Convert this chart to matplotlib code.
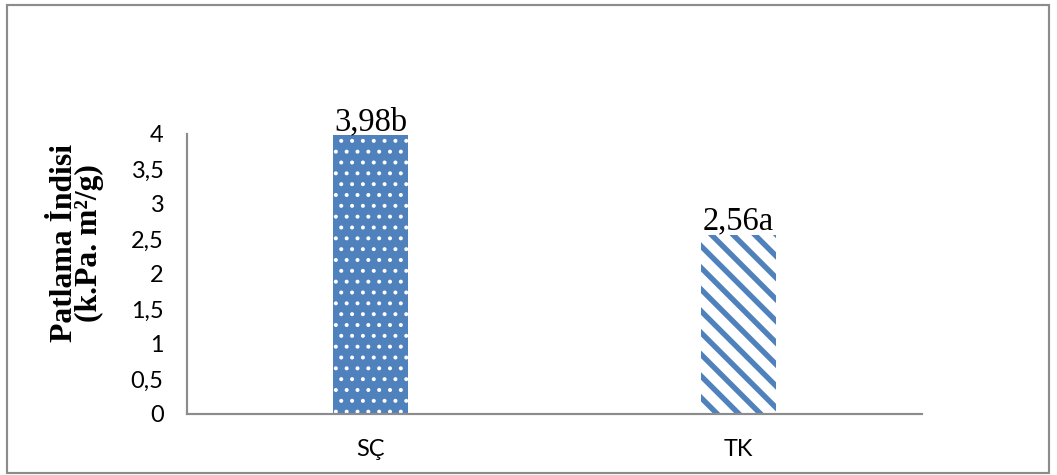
import matplotlib
matplotlib.use("Agg")
import matplotlib.pyplot as plt
from matplotlib.patches import Rectangle

# Data
categories = ["SÇ", "TK"]
values = [3.98, 2.56]
labels = ["3,98b", "2,56a"]
yticks = [0, 0.5, 1, 1.5, 2, 2.5, 3, 3.5, 4]
ytick_labels = ["0", "0,5", "1", "1,5", "2", "2,5", "3", "3,5", "4"]

BLUE = "#4F81BD"
GRAY = "#8C8C8C"
DPI = 130

fig = plt.figure(figsize=(1057 / DPI, 475 / DPI), dpi=DPI)
ax = fig.add_axes([187 / 1057, 1 - 414 / 475, (922 - 187) / 1057, (414 - 134) / 475])

x = list(range(len(categories)))

# dotted bar
plt.rcParams["hatch.linewidth"] = 1.0
b1 = ax.bar(x[0], values[0], width=0.205, color=BLUE, edgecolor="white",
            linewidth=0, hatch="..")
# striped bar
plt.rcParams["hatch.linewidth"] = 3.0
b2 = ax.bar(x[1], values[1], width=0.205, color="white", edgecolor=BLUE,
            linewidth=0, hatch="\\\\")

for xi, v, lab in zip(x, values, labels):
    ax.text(xi, v - 0.02, lab, ha="center", va="bottom", fontsize=18,
            family="Liberation Serif")

ax.set_xlim(-0.5, 1.5)
ax.set_ylim(0, 4)
ax.set_yticks(yticks)
ax.set_yticklabels(ytick_labels, family="Lato", fontsize=13)
ax.set_xticks(x)
ax.set_xticklabels(categories, family="Lato", fontsize=13)
ax.tick_params(axis="y", length=0, pad=13)
ax.tick_params(axis="x", length=0, pad=14)

for s in ["top", "right"]:
    ax.spines[s].set_visible(False)
for s in ["left", "bottom"]:
    ax.spines[s].set_color(GRAY)
    ax.spines[s].set_linewidth(1.2)

fig.text(77 / 1057, 1 - 243 / 475, "Patlama İndisi\n(k.Pa. m²/g)", rotation=90,
         ha="center", va="center", fontsize=17.5, fontweight="bold",
         family="Liberation Serif", linespacing=0.85, multialignment="center")

# outer border
fig.patches.append(Rectangle((7 / 1057, 1 - 473 / 475), (1049 - 7) / 1057, (473 - 5) / 475,
                             transform=fig.transFigure, fill=False,
                             edgecolor=GRAY, linewidth=1.2))

fig.savefig("out.png", dpi=DPI)
